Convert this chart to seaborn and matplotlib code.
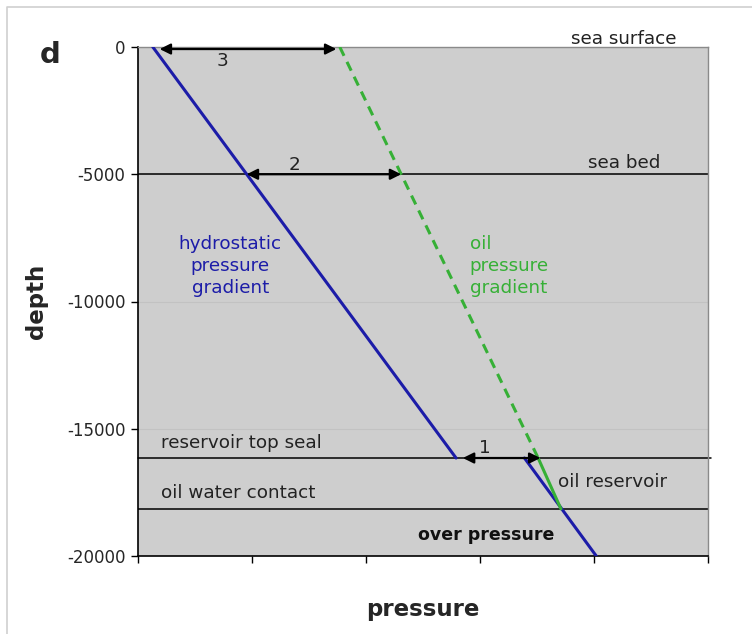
import numpy as np
import pandas as pd
import matplotlib
matplotlib.use("Agg")
import matplotlib.pyplot as plt
import seaborn as sns
from matplotlib.lines import Line2D

# ---- data ----
hydro_depth = [0, -16150]
hydro_pressure = [0.13, 2.79]
over_depth = [-16150, -20000]
over_pressure = [3.39, 4.02]
oil_depth = [0, -16150]
oil_pressure = [1.77, 3.51]
res_depth = [-16150, -18150]
res_pressure = [3.51, 3.71]

sea_bed = -5000
top_seal = -16150
owc = -18150

y_ticks = [0, -5000, -10000, -15000, -20000]
x_ticks = [0, 1, 2, 3, 4, 5]

sns.set_style("white")
plt.rcParams['font.family'] = ['DejaVu Sans']

fig = plt.figure(figsize=(7.52, 6.34), dpi=100)
ax = fig.add_axes([138/752, 1-556/634, 570/752, 509/634])
ax.set_facecolor("#cecece")

blue = "#1c1ca8"
green = "#36b036"

# gridlines
for yv in y_ticks:
    ax.axhline(yv, color="#c2c2c2", lw=0.8, zorder=0)

# horizontal layer lines
ax.axhline(sea_bed, color="black", lw=1.1, zorder=2)
ax.plot([0, 5.03], [top_seal, top_seal], color="black", lw=1.1, zorder=2, clip_on=False)
ax.axhline(owc, color="black", lw=1.1, zorder=2)

df_h = pd.DataFrame({"p": hydro_pressure, "d": hydro_depth})
df_o = pd.DataFrame({"p": over_pressure, "d": over_depth})
df_oil = pd.DataFrame({"p": oil_pressure, "d": oil_depth})
df_r = pd.DataFrame({"p": res_pressure, "d": res_depth})

sns.lineplot(data=df_h, x="p", y="d", ax=ax, color=blue, lw=2.2, sort=False, zorder=3)
sns.lineplot(data=df_o, x="p", y="d", ax=ax, color=blue, lw=2.2, sort=False, zorder=3)
l = sns.lineplot(data=df_oil, x="p", y="d", ax=ax, color=green, lw=2.2, sort=False, zorder=3)
l.lines[-1].set_dashes((3.2, 2.2))
sns.lineplot(data=df_r, x="p", y="d", ax=ax, color=green, lw=2.2, sort=False, zorder=3)

ax.set_xlim(0, 5)
ax.set_ylim(-20000, 0)
ax.set_xticks(x_ticks)
ax.set_xticklabels([])
ax.set_yticks(y_ticks)
ax.set_yticklabels([str(v) for v in y_ticks])
ax.tick_params(axis="y", direction="out", length=5, width=1, labelsize=12, pad=4, color="black", left=True)
ax.tick_params(axis="x", direction="out", length=5, width=1, bottom=True, color="black")

for s in ["top", "right"]:
    ax.spines[s].set_color("#8a8a8a")
    ax.spines[s].set_linewidth(1.0)
for s in ["left", "bottom"]:
    ax.spines[s].set_color("black")
    ax.spines[s].set_linewidth(1.2)

ax.set_xlabel("pressure", fontsize=16.5, fontweight="bold")
ax.set_ylabel("depth", fontsize=16.5, fontweight="bold")
ax.xaxis.set_label_coords(0.5, -0.082)
ax.yaxis.set_label_coords(-0.158, 0.5)

# arrows
ap = dict(arrowstyle="<|-|>", color="black", lw=1.6, mutation_scale=16, shrinkA=0, shrinkB=0)
def interp_p(dep, ps, ds):
    return np.interp(-dep, [-d for d in ds], ps)

x3a = hydro_pressure[0] + 0.06
x3b = oil_pressure[0] - 0.03
ax.annotate("", xy=(x3a, -80), xytext=(x3b, -80), arrowprops=ap, annotation_clip=False, zorder=4)
x2a = interp_p(sea_bed, hydro_pressure, hydro_depth)
x2b = interp_p(sea_bed, oil_pressure, oil_depth)
ax.annotate("", xy=(x2a, sea_bed), xytext=(x2b, sea_bed), arrowprops=ap, zorder=4)
x1a = hydro_pressure[1] + 0.06
x1b = oil_pressure[1] + 0.02
ax.annotate("", xy=(x1a, top_seal), xytext=(x1b, top_seal), arrowprops=ap, zorder=4)

fs = 13.2
ax.text(0.74, -560, "3", ha="center", va="center", fontsize=fs, color="#222222")
ax.text(1.37, -4640, "2", ha="center", va="center", fontsize=fs, color="#222222")
ax.text(3.04, -15760, "1", ha="center", va="center", fontsize=fs, color="#222222")

ax.text(4.72, 330, "sea surface", ha="right", va="center", fontsize=fs, color="#222222", clip_on=False)
ax.text(4.58, -4560, "sea bed", ha="right", va="center", fontsize=fs, color="#222222")
ax.text(0.81, -8600, "hydrostatic\npressure\ngradient", ha="center", va="center",
        fontsize=fs, color=blue, linespacing=1.3)
ax.text(2.91, -8600, "oil\npressure\ngradient", ha="left", va="center",
        fontsize=fs, color=green, linespacing=1.3)
ax.text(0.2, -15560, "reservoir top seal", ha="left", va="center", fontsize=fs, color="#222222")
ax.text(0.2, -17520, "oil water contact", ha="left", va="center", fontsize=fs, color="#222222")
ax.text(3.68, -17090, "oil reservoir", ha="left", va="center", fontsize=fs, color="#222222")
ax.text(3.05, -19170, "over pressure", ha="center", va="center", fontsize=12.5, fontweight="bold", color="#111111")

fig.text(50/752, 1-55/634, "d", ha="center", va="center", fontsize=21, fontweight="bold")

# outer frame
fig.add_artist(Line2D([7/752, 7/752, 1], [0, 1-7/634, 1-7/634], transform=fig.transFigure,
                      color="#d0d0d0", lw=1.2))

fig.savefig("out.png", dpi=100)
